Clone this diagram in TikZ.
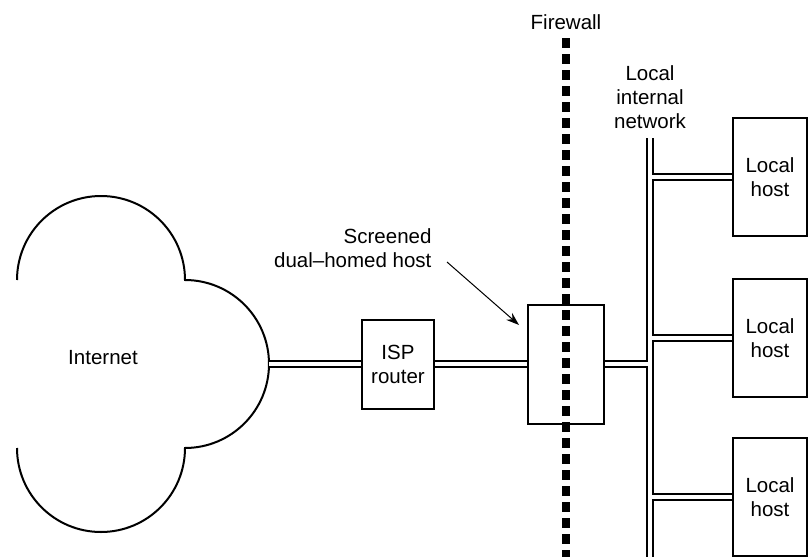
\documentclass[tikz,border=0pt]{standalone}
\usepackage{fontspec}
\setmainfont{Liberation Sans}
\usetikzlibrary{arrows.meta}

\begin{document}
\begin{tikzpicture}[x=1pt,y=-1pt,
    font=\fontsize{20.5}{24}\selectfont,
    box/.style={draw, line width=2pt, inner sep=0pt, align=center},
    link/.style={line width=2pt, double, double distance=4.4pt},
    wall/.style={line width=7.5pt, dash pattern=on 10pt off 6pt},
    pointer/.style={line width=1pt, -{Stealth[length=13pt,width=9pt]}}]
  \useasboundingbox (0,0) rectangle (809,557);

  % the internet cloud, open on the left
  \draw[line width=2pt] (17,280) arc[start angle=180, end angle=360, radius=84]
      arc[start angle=-90, end angle=90, radius=84]
      arc[start angle=0, end angle=180, radius=84];
  \node (inet) at (103,358) {Internet};
  \coordinate (cloud) at (269,364);

  \node[box, minimum width=72pt, minimum height=89pt] (isp) at (398,364) {ISP\\router};
  \node[box, minimum width=76pt, minimum height=119pt] (dual) at (566,364) {};
  \node[box, minimum width=74pt, minimum height=118pt] (lh1) at (770,177) {Local\\host};
  \node[box, minimum width=74pt, minimum height=118pt] (lh2) at (770,338) {Local\\host};
  \node[box, minimum width=74pt, minimum height=118pt] (lh3) at (770,497) {Local\\host};

  \node (fw) at (566,22) {Firewall};
  \node[align=center] (net) at (650,97) {Local\\internal\\network};
  \node[align=right, anchor=east] (scr) at (435,248) {Screened\\dual--homed host};

  \coordinate (bustop) at (650,138);
  \coordinate (busbot) at (650,562);
  \coordinate (wtop) at (566,38);
  \coordinate (wbot) at (566,562);
  \coordinate (ptail) at (447,262);
  \coordinate (phead) at (519,325);

  % all cables in one path so the junctions merge
  \draw[link] (cloud) -- (isp.west) (isp.east) -- (dual.west)
      (dual.east) -- (dual.east -| bustop) (bustop) -- (busbot)
      (lh1.west -| bustop) -- (lh1.west)
      (lh2.west -| bustop) -- (lh2.west)
      (lh3.west -| bustop) -- (lh3.west);

  \draw[wall] (wtop) -- (wbot);
  \draw[pointer] (ptail) -- (phead);
\end{tikzpicture}
\end{document}
